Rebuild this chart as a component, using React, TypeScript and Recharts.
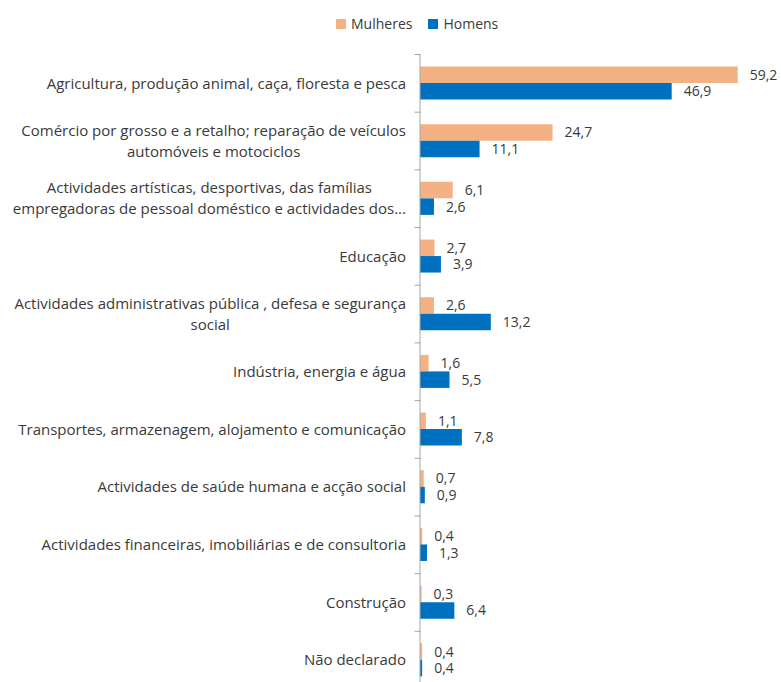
import React from "react";
import { BarChart, Bar, XAxis, YAxis, LabelList } from "recharts";

const categories = [
  "Agricultura, produção animal, caça, floresta e pesca",
  "Comércio por grosso e a retalho; reparação de veículos\nautomóveis e  motociclos",
  "Actividades artísticas, desportivas, das famílias\nempregadoras de pessoal doméstico e actividades dos...",
  "Educação",
  "Actividades administrativas pública , defesa e segurança\nsocial",
  "Indústria, energia e água",
  "Transportes, armazenagem, alojamento e comunicação",
  "Actividades de saúde humana e acção social",
  "Actividades financeiras, imobiliárias e de consultoria",
  "Construção",
  "Não declarado",
];
const mulheres = [59.2, 24.7, 6.1, 2.7, 2.6, 1.6, 1.1, 0.7, 0.4, 0.3, 0.4];
const homens = [46.9, 11.1, 2.6, 3.9, 13.2, 5.5, 7.8, 0.9, 1.3, 6.4, 0.4];
const seriesNames = ["Mulheres", "Homens"];

const ORANGE = "#F4B183";
const BLUE = "#0070C0";
const TEXT = "#3a3a3a";
const FONT_FAMILY = "'Open Sans', sans-serif";
const CAT_SIZE = 15;
const VAL_SIZE = 14;

const W = 781;
const H = 690;
const MARGIN = { top: 54.5, right: 39, bottom: 1, left: 0 };
const AXIS_W = 420;
const BAND = (H - MARGIN.top - MARGIN.bottom) / categories.length;

const data = categories.map((name, i) => ({ name, mulheres: mulheres[i], homens: homens[i] }));

let ctx: CanvasRenderingContext2D | null = null;
function measure(s: string) {
  if (!ctx) ctx = document.createElement("canvas").getContext("2d");
  if (!ctx) return s.length * 7;
  ctx.font = `${CAT_SIZE}px ${FONT_FAMILY}`;
  return ctx.measureText(s).width;
}

const fmt = (v: any) => Number(v).toFixed(1).replace(".", ",");

function CategoryTick(props: any) {
  const { y, payload, index } = props;
  const lines: string[] = String(payload.value).split("\n");
  const widths = lines.map(measure);
  const maxW = Math.max(...widths);
  const right = 406;
  const cx = right - maxW / 2;
  const lh = 21;
  const y0 = y - ((lines.length - 1) * lh) / 2;
  const axisX = AXIS_W + 0.5;
  return (
    <g>
      <line x1={axisX - 6} x2={axisX} y1={y - BAND / 2} y2={y - BAND / 2} stroke="#A6A6A6" />
      {index === categories.length - 1 && (
        <line x1={axisX - 6} x2={axisX} y1={y + BAND / 2} y2={y + BAND / 2} stroke="#A6A6A6" />
      )}
      {lines.map((l, i) => (
        <text
          key={i}
          x={lines.length > 1 ? cx : right}
          y={y0 + i * lh}
          dy="0.35em"
          textAnchor={lines.length > 1 ? "middle" : "end"}
          fill={TEXT}
          fontSize={CAT_SIZE}
          fontFamily={FONT_FAMILY}
        >
          {l}
        </text>
      ))}
    </g>
  );
}

export default function App() {
  return (
    <div style={{ position: "absolute", left: 0, top: 0, width: W, height: 682, overflow: "hidden", background: "#fff" }}>
      <div
        style={{
          position: "absolute",
          top: 14,
          left: 336,
          display: "flex",
          fontFamily: FONT_FAMILY,
          fontSize: VAL_SIZE,
          color: TEXT,
        }}
      >
        {seriesNames.map((n, i) => (
          <div key={n} style={{ display: "flex", alignItems: "center", marginRight: i === 0 ? 16 : 0 }}>
            <span style={{ width: 10, height: 10, background: i === 0 ? ORANGE : BLUE, marginRight: 5, display: "inline-block" }} />
            <span>{n}</span>
          </div>
        ))}
      </div>
      <div style={{ position: "absolute", top: 0, left: 0 }}>
        <BarChart width={W} height={H} data={data} layout="vertical" margin={MARGIN} barGap={0}>
          <XAxis type="number" domain={[0, 60]} hide />
          <YAxis
            type="category"
            dataKey="name"
            width={AXIS_W}
            axisLine={{ stroke: "#A6A6A6" }}
            tickLine={false}
            tick={<CategoryTick />}
            interval={0}
          />
          <Bar dataKey="mulheres" name={seriesNames[0]} fill={ORANGE} barSize={16.5} isAnimationActive={false}>
            <LabelList dataKey="mulheres" position="right" offset={12} formatter={fmt} fill={TEXT} fontSize={VAL_SIZE} fontFamily={FONT_FAMILY} />
          </Bar>
          <Bar dataKey="homens" name={seriesNames[1]} fill={BLUE} barSize={16.5} isAnimationActive={false}>
            <LabelList dataKey="homens" position="right" offset={12} formatter={fmt} fill={TEXT} fontSize={VAL_SIZE} fontFamily={FONT_FAMILY} />
          </Bar>
        </BarChart>
      </div>
    </div>
  );
}
